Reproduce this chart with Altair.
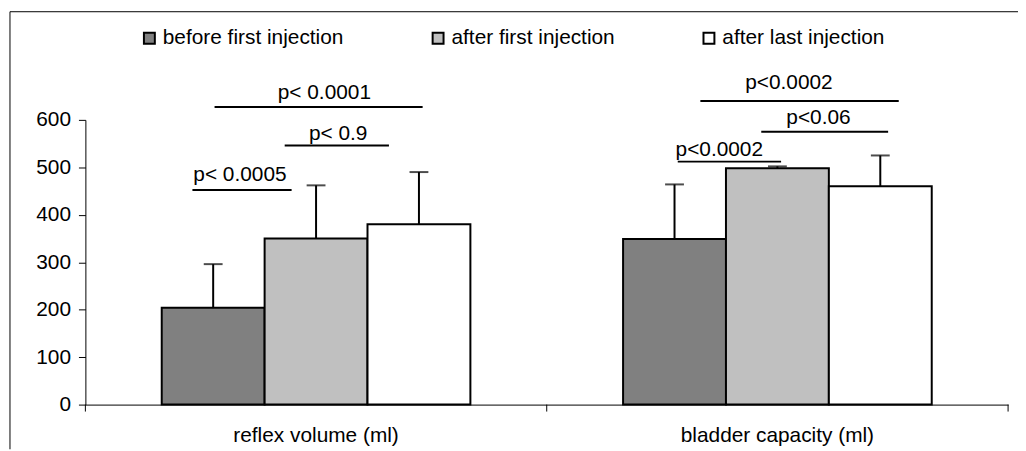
import altair as alt
import pandas as pd

categories = ["reflex volume (ml)", "bladder capacity (ml)"]
series = ["before first injection", "after first injection", "after last injection"]
colors = ["#808080", "#C0C0C0", "#FFFFFF"]

means_reflex = [204, 350, 380]
sd_reflex = [92, 112, 110]
means_bladder = [349, 498, 460]
sd_bladder = [115, 4, 65]

# significance annotations: x in category units (0..2), y in ml
ann_labels = ["p< 0.0001", "p< 0.9", "p< 0.0005", "p<0.0002", "p<0.06", "p<0.0002"]
ann_line_x1 = [0.280, 0.432, 0.232, 1.333, 1.465, 1.284]
ann_line_x2 = [0.731, 0.658, 0.447, 1.763, 1.740, 1.508]
ann_line_y = [627, 546, 452, 640, 575, 512]
ann_text_x = [0.518, 0.548, 0.335, 1.525, 1.589, 1.374]
ann_text_y = [656, 571, 483, 677, 604, 537]

rows = []
for cat, means, sds in [(categories[0], means_reflex, sd_reflex),
                        (categories[1], means_bladder, sd_bladder)]:
    for s, m, sd in zip(series, means, sds):
        rows.append({"category": cat, "series": s, "value": m, "upper": m + sd})
df = pd.DataFrame(rows)

ann = pd.DataFrame({
    "label": ann_labels, "x1": ann_line_x1, "x2": ann_line_x2, "ly": ann_line_y,
    "tx": ann_text_x, "ty": ann_text_y,
})

FONT = "Liberation Sans"
FS = 21
W, H = 930, 287

xscale = alt.Scale(domain=categories, paddingInner=0, paddingOuter=0)
offscale = alt.Scale(domain=series, paddingInner=0, paddingOuter=0.742)
yscale = alt.Scale(domain=[0, 600], nice=False)

x_axis = alt.Axis(title=None, labelAngle=0, ticks=False, domain=True,
                  domainColor="black", domainWidth=1, labelLimit=0,
                  labelFontSize=FS, labelFont=FONT, labelColor="black",
                  labelPadding=20)
y_axis = alt.Axis(title=None, values=[0, 100, 200, 300, 400, 500, 600],
                  tickSize=7, tickColor="black", domainColor="black",
                  labelFontSize=FS, labelFont=FONT, labelColor="black",
                  labelPadding=8, grid=False)


def xenc(**kw):
    return alt.X("category:N", scale=xscale, sort=categories, axis=x_axis, **kw)


def yenc(field):
    return alt.Y(field, scale=yscale, axis=y_axis)


xoff = alt.XOffset("series:N", scale=offscale, sort=series)

bars = alt.Chart(df).mark_bar(stroke="black", strokeWidth=2, opacity=1).encode(
    x=xenc(),
    xOffset=xoff,
    y=yenc("value:Q"),
    color=alt.Color("series:N", sort=series,
                    scale=alt.Scale(domain=series, range=colors),
                    legend=alt.Legend(title=None, orient="none", legendX=54, legendY=-93,
                                      direction="horizontal", symbolType="square",
                                      symbolSize=121, symbolStrokeColor="black",
                                      symbolStrokeWidth=2, symbolOpacity=1,
                                      labelFontSize=FS, labelFont=FONT, labelColor="black",
                                      labelLimit=0, labelOffset=3, columnPadding=84,
                                      padding=0)),
)

err = alt.Chart(df).mark_rule(color="black", strokeWidth=2).encode(
    x=xenc(), xOffset=xoff,
    y=yenc("value:Q"), y2="upper:Q",
)
caps = alt.Chart(df).mark_tick(color="black", thickness=2, size=19, orient="horizontal").encode(
    x=xenc(), xOffset=xoff,
    y=yenc("upper:Q"),
)

tick_df = pd.DataFrame({"category": categories})
xticks = alt.Chart(tick_df).mark_rule(color="black", strokeWidth=1).encode(
    x=xenc(bandPosition=0),
    y=alt.value(H), y2=alt.value(H + 7),
)
xtick_end = alt.Chart(tick_df.iloc[[1]]).mark_rule(color="black", strokeWidth=1).encode(
    x=xenc(bandPosition=1),
    y=alt.value(H), y2=alt.value(H + 7),
)

main = alt.layer(bars, err, caps, xticks, xtick_end)

xq = alt.Scale(domain=[0, 2], nice=False, zero=False)
ann_lines = alt.Chart(ann).mark_rule(color="black", strokeWidth=2).encode(
    x=alt.X("x1:Q", scale=xq, axis=None), x2="x2:Q",
    y=yenc("ly:Q"),
)
ann_text = alt.Chart(ann).mark_text(fontSize=FS, font=FONT, color="black",
                                    baseline="middle", align="center").encode(
    x=alt.X("tx:Q", scale=xq, axis=None),
    y=yenc("ty:Q"),
    text="label:N",
)
annot = alt.layer(ann_lines, ann_text)

frame_data = alt.Data(values=[{"a": 1}])
frame_top = alt.Chart(frame_data).mark_rule(color="black", strokeWidth=1).encode(
    x=alt.value(-76), x2=alt.value(W + 10), y=alt.value(-109),
)
frame_left = alt.Chart(frame_data).mark_rule(color="black", strokeWidth=1).encode(
    x=alt.value(-76), y=alt.value(-109), y2=alt.value(H + 45),
)

chart = alt.layer(main, annot, frame_top, frame_left).resolve_scale(
    x="independent"
).properties(
    width=W, height=H,
    autosize=alt.AutoSizeParams(type="none"),
    padding={"left": 78, "top": 111, "right": 10, "bottom": 45},
).configure(background="white").configure_view(stroke=None)

chart.save("out.html", embed_options={"renderer": "svg", "actions": False})
